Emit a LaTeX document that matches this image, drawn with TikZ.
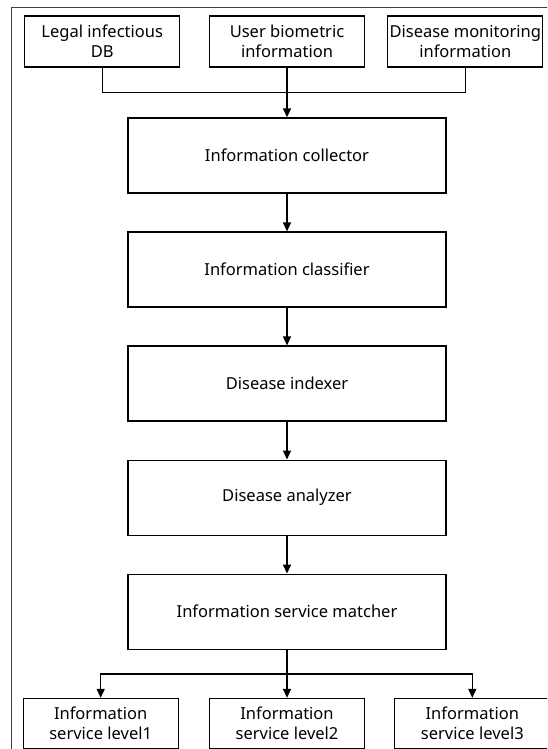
\documentclass[tikz,border=0pt]{standalone}
\usepackage{fontspec}
\setmainfont{Noto Sans}
\usetikzlibrary{calc}
\usetikzlibrary{positioning}
\usetikzlibrary{arrows.meta}
\tikzset{
    midpt/.style args={#1 and #2}{
    	at = ($(#1)!0.5!(#2)$)
    }
}

\begin{document}
\begin{tikzpicture}[
        x=1pt, y=-1pt,
        every node/.style={font=\fontsize{16.5}{20}\selectfont},
        block/.style={rectangle, draw=black, line width=1.3pt, minimum width=318pt, minimum height=75pt, node distance=37.75pt},
        small/.style={rectangle, draw=black, line width=1.3pt, align=center, minimum width=155pt, minimum height=51pt, inner sep=0pt},
        wire/.style={line width=1.4pt},
        link/.style={wire, -{Triangle[length=9pt,width=8pt]}},
    ]

    \useasboundingbox (0,0) rectangle (547,749);
    \clip (0,0) rectangle (547,749);
    \draw[line width=0.8pt, black!75] (11,7) rectangle (600,800);

    \node[small]      (S2)        at (287,41.5)   {User biometric\\information};
    \node[small]      (S1)        [left=28.5pt of S2]  {Legal infectious\\DB};
    \node[small]      (S3)        [right=22pt of S2] {Disease monitoring\\information};

    \node[block]      (B1)        at (287,155.5)  {Information collector};
    \node[block]      (B2)        [below=of B1]   {Information classifier};
    \node[block]      (B3)        [below=of B2]   {Disease indexer};
    \node[block]      (B4)        [below=of B3]   {Disease analyzer};
    \node[block]      (B5)        [below=of B4]   {Information service matcher};

    \node[small, minimum height=50pt] (O2) [below=48pt of B5] {Information\\service level2};
    \node[small, minimum height=50pt] (O1) [left=30pt of O2]  {Information\\service level1};
    \node[small, minimum height=50pt] (O3) [right=29pt of O2] {Information\\service level3};

    \coordinate[midpt=S2.south and B1.north] (J1);
    \coordinate[midpt=B5.south and O2.north] (J2);

    \draw[wire] (S1.south) |- (J1);
    \draw[wire] (S3.south) |- (J1);
    \draw[link] (S2.south) -- (B1.north);
    \draw[link] (B1.south) -- (B2.north);
    \draw[link] (B2.south) -- (B3.north);
    \draw[link] (B3.south) -- (B4.north);
    \draw[link] (B4.south) -- (B5.north);

    \draw[link] (B5.south) -- (O2.north);
    \draw[link] (J2) -| (O1.north);
    \draw[link] (J2) -| (O3.north);
\end{tikzpicture}
\end{document}
